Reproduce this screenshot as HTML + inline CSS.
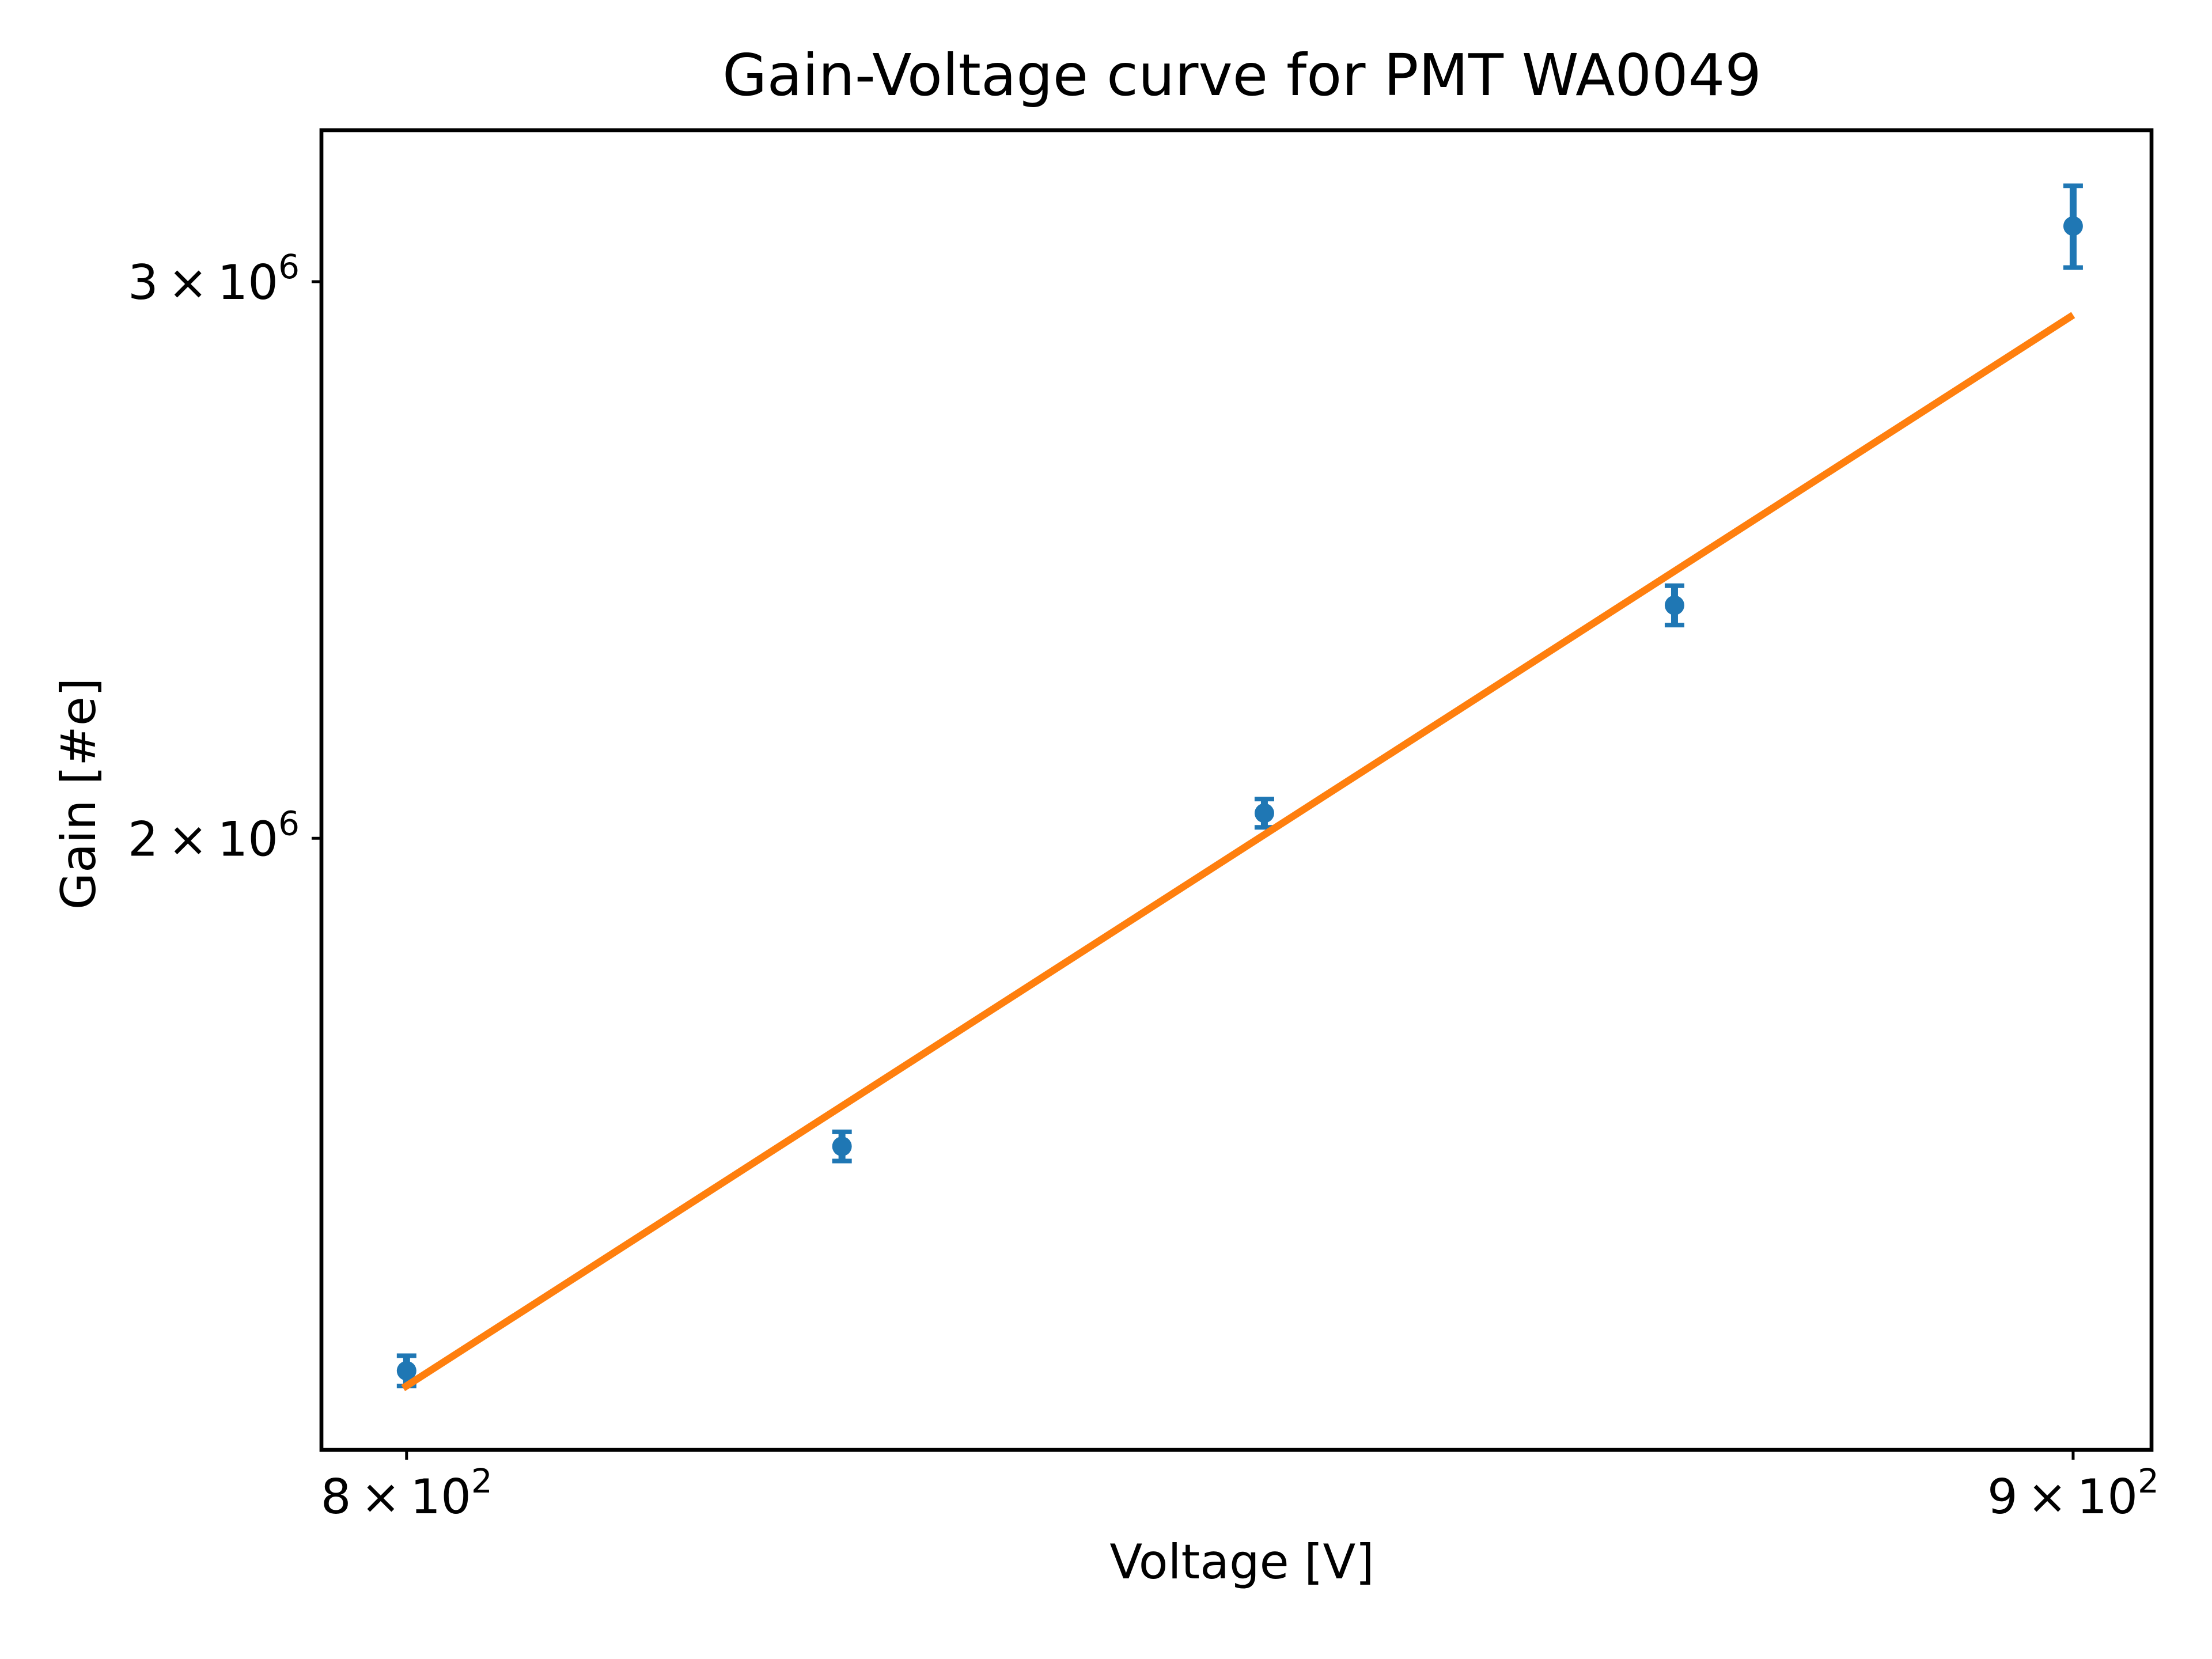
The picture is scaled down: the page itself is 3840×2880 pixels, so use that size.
<!DOCTYPE html>
<html><head><meta charset="utf-8"><style>
html,body{margin:0;padding:0;background:#fff}
svg{display:block;font-family:"DejaVu Sans","Liberation Sans",sans-serif}
</style></head><body>
<svg id="chart" width="3840" height="2880" viewBox="0 0 3840 2880" xmlns="http://www.w3.org/2000/svg">
<rect width="3840" height="2880" fill="#fff"/>
<text x="2156" y="165" font-size="100" text-anchor="middle">Gain-Voltage curve for PMT WA0049</text>
<text x="2156" y="2740" font-size="83" text-anchor="middle">Voltage [V]</text>
<text x="0" y="0" font-size="83" text-anchor="middle" transform="translate(165,1378) rotate(-90)">Gain [#e]</text>
<g id="plot"></g>
<rect x="558" y="226" width="3177" height="2291" fill="none" stroke="#000" stroke-width="6.7"/>
</svg>
<script>
const voltages = [800, 825, 850, 875, 900];
const gains = [1.357e6, 1.598e6, 2.037e6, 2.37e6, 3.124e6];
const gainErrors = [0.015e6, 0.017e6, 0.021e6, 0.034e6, 0.093e6];
const fitStart = [800, 1.340e6];
const fitEnd = [900, 2.928e6];
const xTicks = [800, 900];
const xTickLabels = ["8", "9"];
const yTicks = [2e6, 3e6];
const yTickLabels = ["2", "3"];

const L=558,R=3735,T=226,B=2517;
const xmin=795.2,xmax=905.0,ymin=1.281e6,ymax=3.350e6;
const sx=v=>L+(Math.log(v)-Math.log(xmin))/(Math.log(xmax)-Math.log(xmin))*(R-L);
const sy=v=>B-(Math.log(v)-Math.log(ymin))/(Math.log(ymax)-Math.log(ymin))*(B-T);
const NS="http://www.w3.org/2000/svg";
const g=document.getElementById('plot');
function mk(tag,attrs,parent){const e=document.createElementNS(NS,tag);for(const k in attrs)e.setAttribute(k,attrs[k]);(parent||g).appendChild(e);return e;}

xTicks.forEach((v,i)=>{
  const t=mk('line',{x1:sx(v),x2:sx(v),y1:B,y2:B+17,stroke:'#000','stroke-width':5});
  
  
  const tx=mk('text',{x:sx(v),y:B+110,'font-size':83,'text-anchor':'middle'});
  
  
  tx.innerHTML=xTickLabels[i]+'\u2009\u00d7\u200910<tspan font-size="58" dy="-36">2</tspan>';
});
yTicks.forEach((v,i)=>{
  const t=mk('line',{x1:L-17,x2:L,y1:sy(v),y2:sy(v),stroke:'#000','stroke-width':5});
  
  
  const tx=mk('text',{x:L-38,y:sy(v)+30,'font-size':83,'text-anchor':'end'});
  
  
  tx.innerHTML=yTickLabels[i]+'\u2009\u00d7\u200910<tspan font-size="58" dy="-36">6</tspan>';
});
voltages.forEach((v,i)=>{
  const x=sx(v),y1=sy(gains[i]+gainErrors[i]),y0=sy(gains[i]-gainErrors[i]);
  const grp=mk('g',{});
  
  
  mk('line',{x1:x,x2:x,y1:y1,y2:y0,stroke:'#1f77b4','stroke-width':12},grp);
  mk('line',{x1:x-17,x2:x+17,y1:y1,y2:y1,stroke:'#1f77b4','stroke-width':8},grp);
  mk('line',{x1:x-17,x2:x+17,y1:y0,y2:y0,stroke:'#1f77b4','stroke-width':8},grp);
  mk('circle',{cx:x,cy:sy(gains[i]),r:17,fill:'#1f77b4'},grp);
});
const fit=mk('line',{x1:sx(fitStart[0])-6,y1:sy(fitStart[1]),x2:sx(fitEnd[0]),y2:sy(fitEnd[1]),stroke:'#ff7f0e','stroke-width':12.5});


</script>
</body></html>
